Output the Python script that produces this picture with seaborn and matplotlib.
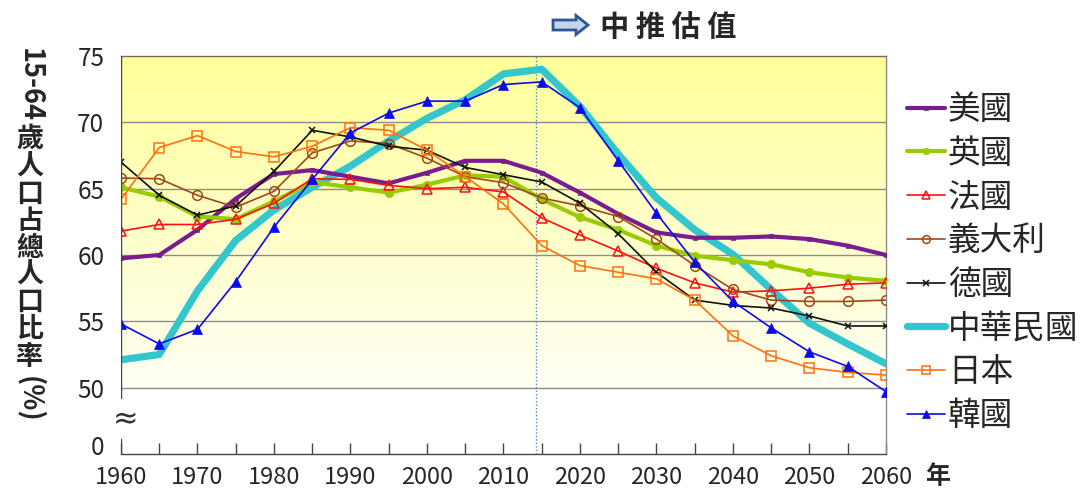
import numpy as np
import pandas as pd
import seaborn as sns
import matplotlib
matplotlib.use("Agg")
import matplotlib.pyplot as plt
from matplotlib.colors import LinearSegmentedColormap
from matplotlib.patches import FancyArrow
from matplotlib.lines import Line2D

sns.set_theme(style="white")
plt.rcParams['font.family'] = ['Noto Sans CJK TC', 'DejaVu Sans']

years = [1960, 1965, 1970, 1975, 1980, 1985, 1990, 1995, 2000, 2005, 2010,
         2015, 2020, 2025, 2030, 2035, 2040, 2045, 2050, 2055, 2060]
usa = [59.75, 60.0, 61.9, 64.25, 66.1, 66.4, 65.9, 65.4, 66.2, 67.1, 67.1,
       66.2, 64.7, 63.1, 61.7, 61.3, 61.3, 61.4, 61.2, 60.7, 60.0]
uk = [65.1, 64.4, 62.9, 62.7, 64.05, 65.5, 65.1, 64.7, 65.3, 66.0, 65.9,
      64.2, 62.85, 61.9, 60.7, 59.95, 59.6, 59.3, 58.7, 58.3, 58.05]
france = [61.8, 62.3, 62.3, 62.7, 63.9, 65.75, 65.7, 65.25, 65.0, 65.1, 64.75,
          62.8, 61.5, 60.3, 59.0, 57.9, 57.2, 57.3, 57.5, 57.8, 57.9]
italy = [65.8, 65.75, 64.5, 63.6, 64.8, 67.7, 68.6, 68.4, 67.3, 65.9, 65.45,
         64.3, 63.7, 62.9, 61.2, 59.2, 57.4, 56.6, 56.5, 56.5, 56.6]
germany = [67.0, 64.5, 63.0, 63.7, 66.3, 69.4, 68.9, 68.2, 67.9, 66.6, 66.05,
           65.5, 63.9, 61.6, 58.7, 56.6, 56.2, 56.0, 55.4, 54.65, 54.65]
taiwan = [52.1, 52.5, 57.3, 61.1, 63.4, 65.1, 66.7, 68.6, 70.3, 71.7, 73.65,
          74.0, 71.2, 67.6, 64.3, 61.9, 60.05, 57.4, 54.85, 53.3, 51.8]
japan = [64.2, 68.1, 69.0, 67.8, 67.4, 68.2, 69.6, 69.4, 67.9, 65.9, 63.85,
         60.7, 59.2, 58.7, 58.2, 56.6, 53.9, 52.4, 51.5, 51.15, 50.95]
korea = [54.8, 53.3, 54.4, 58.0, 62.1, 65.7, 69.2, 70.7, 71.6, 71.6, 72.85,
         73.05, 71.1, 67.1, 63.15, 59.45, 56.5, 54.5, 52.7, 51.6, 49.7]

names = ['美國', '英國', '法國', '義大利', '德國', '中華民國', '日本', '韓國']
series = [usa, uk, france, italy, germany, taiwan, japan, korea]
ytick_vals = [50, 55, 60, 65, 70, 75]
ytick_labels = ['50', '55', '60', '65', '70', '75']
xtick_labels = ['1960', '1970', '1980', '1990', '2000', '2010', '2020', '2030', '2040', '2050', '2060']
proj_start = 2014.3

styles = {
    '美國':   dict(color='#7B1C8E', lw=3.0, marker='s', ms=3.5, mfc='#7B1C8E', mec='#7B1C8E', mew=0.5, z=4),
    '英國':   dict(color='#99CC00', lw=3.0, marker='o', ms=6, mfc='#99CC00', mec='#99CC00', mew=0.5, z=4),
    '法國':   dict(color='#FF1010', lw=1.2, marker='^', ms=7, mfc='none', mec='#FF1010', mew=1.1, z=5),
    '義大利': dict(color='#A0471A', lw=1.2, marker='o', ms=7, mfc='none', mec='#A0471A', mew=1.1, z=5),
    '德國':   dict(color='#111111', lw=1.2, marker='x', ms=5, mfc='none', mec='#111111', mew=1.1, z=5),
    '中華民國': dict(color='#33C6CC', lw=5.2, marker='', ms=0, mfc='none', mec='#33C6CC', mew=0, z=3),
    '日本':   dict(color='#FF7011', lw=1.2, marker='s', ms=7, mfc='none', mec='#FF7011', mew=1.1, z=5),
    '韓國':   dict(color='#0A0AF0', lw=1.2, marker='^', ms=7, mfc='#0A0AF0', mec='#0A0AF0', mew=0.5, z=5),
}

W, H = 1085, 493
fig = plt.figure(figsize=(W / 100, H / 100), dpi=100)
fig.patch.set_facecolor('white')
ax = fig.add_axes([121 / W, 1 - 454 / H, (886 - 121) / W, (454 - 56) / H])
ax.set_facecolor('white')

# gradient background (from 50 to 75)
cmap = LinearSegmentedColormap.from_list('bg', ['#FFFFF4', '#FFFFC6', '#FFFF99'])
grad = np.linspace(0, 1, 256).reshape(-1, 1)
ax.imshow(grad, extent=[years[0], years[-1], 50, 75], origin='lower', aspect='auto',
          cmap=cmap, zorder=0)

# gridlines
for v in ytick_vals[:-1]:
    ax.axhline(v, color='#8C8C8C', lw=1.0, zorder=1)

handles = []
for name, vals in zip(names, series):
    st = styles[name]
    df = pd.DataFrame({'year': years, 'value': vals})
    sns.lineplot(data=df, x='year', y='value', ax=ax, color=st['color'], lw=st['lw'],
                 marker=st['marker'] if st['marker'] else None, ms=st['ms'],
                 mfc=st['mfc'], mec=st['mec'], mew=st['mew'], zorder=st['z'],
                 legend=False, solid_joinstyle='round')
    handles.append(Line2D([], [], color=st['color'], lw=st['lw'],
                          marker=st['marker'] if st['marker'] else None,
                          ms=st['ms'] * 0.8, mfc=st['mfc'], mec=st['mec'], mew=st['mew']))

ax.axvline(proj_start, color='#4A8BD0', lw=1.0, ls=(0, (1, 1.5)), zorder=2)

ax.set_xlim(years[0], years[-1])
ax.set_ylim(45, 75)
ax.set_xlabel('')
ax.set_ylabel('')

ax.set_xticks([int(t) for t in xtick_labels])
ax.set_xticklabels(xtick_labels, fontsize=17)
ax.set_xticks(years, minor=True)
ax.tick_params(axis='x', which='both', direction='in', length=8, width=1, color='#444444',
               pad=9, bottom=True)
ax.set_yticks(ytick_vals + [45.7])
ax.set_yticklabels(ytick_labels + ['0'], fontsize=17.5)
ax.tick_params(axis='y', which='both', length=0, pad=12)

ax.spines['left'].set_visible(False)
ax.spines['bottom'].set_color('#444444')
ax.spines['top'].set_color('#6E6E5A')
ax.spines['right'].set_color('#8C8C8C')
for s in ['bottom', 'top', 'right']:
    ax.spines[s].set_linewidth(1.0)

# broken left axis
ax.axvline(years[0], ymin=(49.2 - 45) / 30, ymax=1, color='#444444', lw=1.0, zorder=6)
ax.axvline(years[0], ymin=0, ymax=(46.1 - 45) / 30, color='#444444', lw=1.0, zorder=6)
ax.text(years[0] + 0.6, 47.6, '≈', fontsize=22, ha='center', va='center', color='#333333',
        family=['DejaVu Sans'])

# legend
ax.legend(handles, names, loc='upper left', bbox_to_anchor=(907 / W, 1 - 94 / H),
          bbox_transform=fig.transFigure, frameon=False, fontsize=23.5,
          handlelength=1.17, handletextpad=0.08, labelspacing=0.36, borderaxespad=0,
          borderpad=0)

# y label (vertical, mixed orientation)
def fx(x):
    return x / W

def fy(y):
    return 1 - y / H

fig.text(fx(30), fy(85), '15-64', rotation=-90, ha='center', va='center', fontsize=19.5,
         fontweight='bold')
for i, ch in enumerate('歲人口占總人口比率'):
    fig.text(fx(30), fy(139 + 27.2 * i), ch, ha='center', va='center', fontsize=19.5,
             fontweight='bold')
fig.text(fx(30), fy(399), '(%)', rotation=-90, ha='center', va='center', fontsize=19.5,
         fontweight='bold')

# x unit
fig.text(fx(938), fy(477), '年', ha='center', va='center', fontsize=18, fontweight='bold')

# title with arrow
arr = FancyArrow(fx(553), fy(25), fx(588) - fx(553), 0, width=10 / H, head_width=19 / H,
                 head_length=12 / W, length_includes_head=True, transform=fig.transFigure,
                 facecolor='#C5D5EE', edgecolor='#2F5597', lw=2.0)
fig.patches.append(arr)
fig.text(fx(600), fy(28), '中 推 估 值', ha='left', va='center', fontsize=21,
         fontweight='bold')

fig.savefig('out.png', dpi=100, facecolor='white')
